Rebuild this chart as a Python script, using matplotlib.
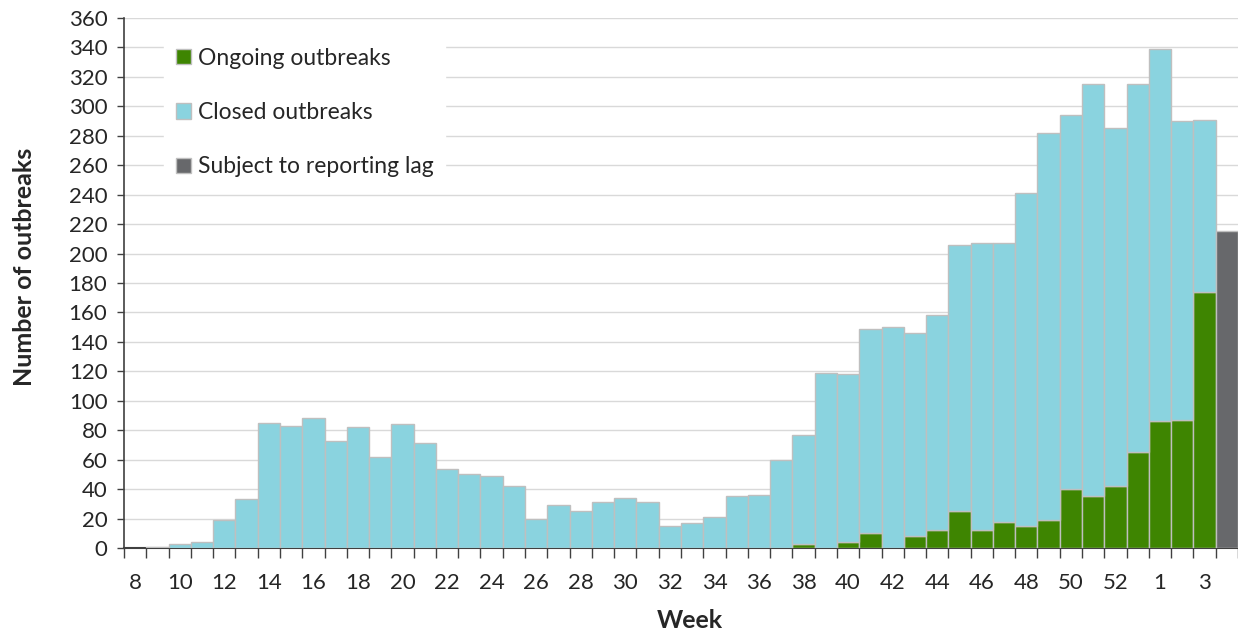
import matplotlib
matplotlib.use("Agg")
import matplotlib.pyplot as plt
from matplotlib.patches import Patch
import numpy as np

plt.rcParams['font.family'] = ['Lato', 'DejaVu Sans']

weeks = ['8', '9', '10', '11', '12', '13', '14', '15', '16', '17', '18', '19', '20', '21',
         '22', '23', '24', '25', '26', '27', '28', '29', '30', '31', '32', '33', '34', '35',
         '36', '37', '38', '39', '40', '41', '42', '43', '44', '45', '46', '47', '48', '49',
         '50', '51', '52', '53', '1', '2', '3', '4']

ongoing = [0, 0, 0, 0, 0, 0, 0, 0, 0, 0, 0, 0, 0, 0,
           0, 0, 0, 0, 0, 0, 0, 0, 0, 0, 0, 0, 0, 0,
           0, 0, 3, 0, 4, 10, 0, 8, 12, 25, 12, 18, 15, 19,
           40, 35, 42, 65, 86, 87, 174, 0]

closed = [0, 1, 3, 4, 19, 33, 85, 83, 88, 73, 82, 62, 84, 71,
          54, 50, 49, 42, 20, 29, 25, 31, 34, 31, 15, 17, 21, 35,
          36, 60, 74, 119, 114, 139, 150, 138, 146, 181, 195, 189, 226, 263,
          254, 280, 243, 250, 253, 203, 117, 0]

reporting_lag = [0] * 49 + [215]

c_green = '#3E8501'
c_blue = '#8AD3DF'
c_gray = '#67686B'
c_edge = '#BFBFBF'

fig = plt.figure(figsize=(12.38, 6.33), dpi=100)
ax = fig.add_axes([124 / 1238, 85 / 633, (1238 - 124) / 1238, 530 / 633])

x = np.arange(len(weeks))
lw = [1 if v > 0 else 0 for v in ongoing]
ax.bar(x, ongoing, width=1.0, color=c_green, edgecolor=c_edge, linewidth=lw, zorder=3)
lw = [1 if v > 0 else 0 for v in closed]
ax.bar(x, closed, width=1.0, bottom=ongoing, color=c_blue, edgecolor=c_edge, linewidth=lw, zorder=3)
lw = [1 if v > 0 else 0 for v in reporting_lag]
ax.bar(x, reporting_lag, width=1.0, color=c_gray, edgecolor=c_edge, linewidth=lw, zorder=3)

ax.set_xlim(-0.5, len(weeks) - 0.5)
ax.set_ylim(0, 360)
ax.set_yticks(np.arange(0, 361, 20))
ax.yaxis.grid(True, color='#D9D9D9', linewidth=1, zorder=0)
ax.set_axisbelow(True)

# boundary ticks (major) and labels at centers (minor)
ax.set_xticks(np.arange(-0.5, len(weeks), 1.0))
ax.set_xticklabels([])
ax.set_xticks(x[::2], minor=True)
ax.set_xticklabels(weeks[::2], minor=True)
ax.tick_params(axis='x', which='major', length=7, width=1, color='#404040', direction='out')
ax.tick_params(axis='x', which='minor', length=0, pad=18, labelsize=16, labelcolor='#262626')
ax.tick_params(axis='y', length=5, width=1, color='#404040', labelsize=16, labelcolor='#262626', pad=7)

for s in ['top', 'right']:
    ax.spines[s].set_visible(False)
ax.spines['left'].set_color('#404040')
ax.spines['bottom'].set_color('#404040')
ax.spines['left'].set_linewidth(1.2)
ax.spines['bottom'].set_linewidth(1.5)

handles = [Patch(facecolor=c_green, edgecolor=c_edge, label='Ongoing outbreaks'),
           Patch(facecolor=c_blue, edgecolor=c_edge, label='Closed outbreaks'),
           Patch(facecolor=c_gray, edgecolor=c_edge, label='Subject to reporting lag')]
leg = ax.legend(handles=handles, loc='upper left', bbox_to_anchor=(0.026, 0.987),
                frameon=True, facecolor='white', edgecolor='white', framealpha=1,
                fontsize=16.5, handlelength=0.65, handleheight=0.65, handletextpad=0.3,
                labelspacing=1.45, borderpad=0.5, fancybox=False)
for t in leg.get_texts():
    t.set_color('#262626')

fig.text(25 / 1238, 1 - 267 / 633, 'Number of outbreaks', rotation=90, ha='center', va='center',
         fontsize=18, fontweight='bold', color='#262626')
fig.text(690 / 1238, 1 - 620 / 633, 'Week', ha='center', va='center',
         fontsize=18, fontweight='bold', color='#262626')

fig.savefig('out.png', dpi=100)
